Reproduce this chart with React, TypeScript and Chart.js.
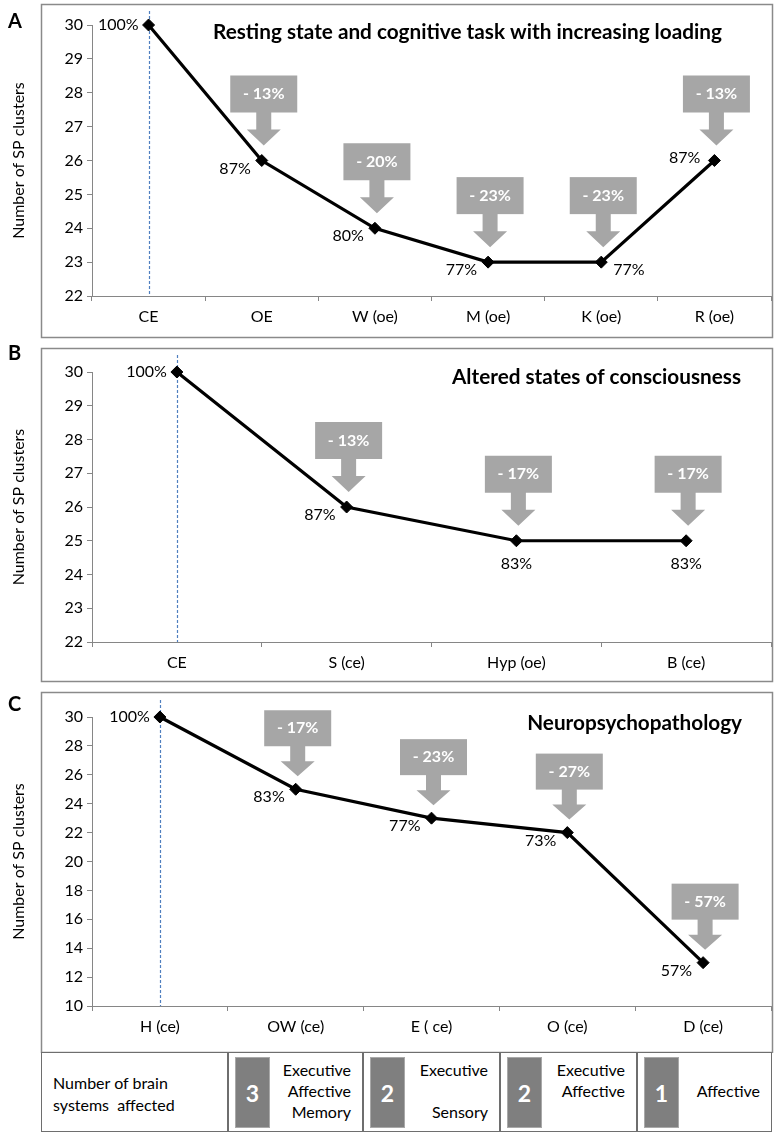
import React, { useEffect, useRef } from "react";
import { Chart, registerables } from "chart.js";
Chart.register(...registerables);

const FONT = "Lato, 'Open Sans', sans-serif";

// Panel A
const catsA = ["CE", "OE", "W (oe)", "M (oe)", "K (oe)", "R (oe)"];
const valsA = [30, 26, 24, 23, 23, 26];
const pctA = ["100%", "87%", "80%", "77%", "77%", "87%"];
const dropA = ["", "- 13%", "- 20%", "- 23%", "- 23%", "- 13%"];
const placeA = ["l", "bl", "bl", "bl", "br", "al"];

// Panel B
const catsB = ["CE", "S (ce)", "Hyp (oe)", "B (ce)"];
const valsB = [30, 26, 25, 25];
const pctB = ["100%", "87%", "83%", "83%"];
const dropB = ["", "- 13%", "- 17%", "- 17%"];
const placeB = ["l", "bl", "b", "b"];

// Panel C
const catsC = ["H (ce)", "OW (ce)", "E ( ce)", "O (ce)", "D (ce)"];
const valsC = [30, 25, 23, 22, 13];
const pctC = ["100%", "83%", "77%", "73%", "57%"];
const dropC = ["", "- 17%", "- 23%", "- 27%", "- 57%"];
const placeC = ["l", "bl", "bl", "bl", "bl"];

// Table
const tableLabel = ["Number of brain", "systems  affected"];
const systemCounts = ["3", "2", "2", "1"];
const systemNames = [
  ["Executive", "Affective", "Memory"],
  ["Executive", "", "Sensory"],
  ["Executive", "Affective", ""],
  ["", "Affective", ""],
];

const yTitle = "Number of SP clusters";

type Geo = { gap: number; head: number; stem: number; rectH: number };
type PanelCfg = {
  cats: string[]; vals: number[]; pct: string[]; drop: string[]; place: string[];
  min: number; max: number; step: number;
  top: number; height: number; plotTop: number; plotBottom: number;
  boxTop: number; boxBottom: number; letter: string; letterY: number;
  title: string; titleX: number; titleAlign: CanvasTextAlign; titleY: number; titleW: number;
  dashAbove: number; geo: Geo;
};

const panels: PanelCfg[] = [
  {
    cats: catsA, vals: valsA, pct: pctA, drop: dropA, place: placeA,
    min: 22, max: 30, step: 1,
    top: 0, height: 342, plotTop: 25, plotBottom: 296, boxTop: 4, boxBottom: 337,
    letter: "A", letterY: 22,
    title: "Resting state and cognitive task with increasing loading", titleX: 213, titleAlign: "left", titleY: 32, titleW: 509,
    dashAbove: 14, geo: { gap: 15, head: 16, stem: 17, rectH: 37 },
  },
  {
    cats: catsB, vals: valsB, pct: pctB, drop: dropB, place: placeB,
    min: 22, max: 30, step: 1,
    top: 342, height: 345, plotTop: 372, plotBottom: 642, boxTop: 348, boxBottom: 681,
    letter: "B", letterY: 354,
    title: "Altered states of consciousness", titleX: 741, titleAlign: "right", titleY: 377, titleW: 289,
    dashAbove: 17, geo: { gap: 15, head: 16, stem: 17, rectH: 37 },
  },
  {
    cats: catsC, vals: valsC, pct: pctC, drop: dropC, place: placeC,
    min: 10, max: 30, step: 2,
    top: 687, height: 366, plotTop: 717, plotBottom: 1006, boxTop: 692, boxBottom: 1052,
    letter: "C", letterY: 705,
    title: "Neuropsychopathology", titleX: 742, titleAlign: "right", titleY: 723, titleW: 215,
    dashAbove: 17, geo: { gap: 13, head: 15, stem: 15, rectH: 36 },
  },
];

function drawCallout(ctx: CanvasRenderingContext2D, px: number, py: number, text: string, g: Geo) {
  const cx = px + 2;
  const tip = py - g.gap;
  const headTop = tip - g.head;
  const rectBot = headTop - g.stem;
  const rectTop = rectBot - g.rectH;
  ctx.save();
  ctx.fillStyle = "#a6a6a6";
  ctx.fillRect(cx - 33.5, rectTop, 67, g.rectH);
  ctx.beginPath();
  ctx.moveTo(cx - 7.5, rectBot - 1);
  ctx.lineTo(cx + 7.5, rectBot - 1);
  ctx.lineTo(cx + 7.5, headTop);
  ctx.lineTo(cx + 17, headTop);
  ctx.lineTo(cx, tip);
  ctx.lineTo(cx - 17, headTop);
  ctx.lineTo(cx - 7.5, headTop);
  ctx.closePath();
  ctx.fill();
  ctx.fillStyle = "#ffffff";
  ctx.font = `bold 16px ${FONT}`;
  ctx.textAlign = "center";
  ctx.textBaseline = "middle";
  ctx.fillText(text, cx, rectTop + g.rectH / 2);
  ctx.restore();
}

function panelPlugin(cfg: PanelCfg) {
  const off = cfg.top;
  return {
    id: "panelDeco" + cfg.letter,
    beforeDatasetsDraw(chart: any) {
      const ctx: CanvasRenderingContext2D = chart.ctx;
      const xs = chart.scales.x;
      const x0 = Math.round(xs.getPixelForValue(0)) + 0.5;
      ctx.save();
      ctx.strokeStyle = "#4f7fbf";
      ctx.lineWidth = 1.2;
      ctx.setLineDash([3, 2]);
      ctx.beginPath();
      ctx.moveTo(x0, chart.chartArea.top - cfg.dashAbove);
      ctx.lineTo(x0, chart.chartArea.bottom);
      ctx.stroke();
      ctx.restore();
    },
    afterDatasetsDraw(chart: any) {
      const ctx: CanvasRenderingContext2D = chart.ctx;
      const meta = chart.getDatasetMeta(0);
      meta.data.forEach((pt: any, i: number) => {
        const px = pt.x, py = pt.y;
        if (cfg.drop[i]) drawCallout(ctx, px, py, cfg.drop[i], cfg.geo);
        ctx.save();
        ctx.fillStyle = "#000";
        ctx.font = `16px ${FONT}`;
        ctx.textBaseline = "middle";
        const p = cfg.place[i];
        if (p === "l") { ctx.textAlign = "right"; ctx.fillText(cfg.pct[i], px - 10, py); }
        else if (p === "bl") { ctx.textAlign = "right"; ctx.fillText(cfg.pct[i], px - 11, py + 8); }
        else if (p === "br") { ctx.textAlign = "left"; ctx.fillText(cfg.pct[i], px + 12, py + 8); }
        else if (p === "al") { ctx.textAlign = "right"; ctx.fillText(cfg.pct[i], px - 14, py - 3); }
        else if (p === "b") { ctx.textAlign = "center"; ctx.fillText(cfg.pct[i], px, py + 23); }
        ctx.restore();
      });
    },
    afterDraw(chart: any) {
      const ctx: CanvasRenderingContext2D = chart.ctx;
      ctx.save();
      // box
      ctx.strokeStyle = "#8a8a8a";
      ctx.lineWidth = 1.5;
      ctx.strokeRect(41.5, cfg.boxTop - off + 0.5, 731, cfg.boxBottom - cfg.boxTop);
      // letter
      ctx.fillStyle = "#000";
      ctx.font = `bold 20px ${FONT}`;
      ctx.textAlign = "left";
      ctx.textBaseline = "middle";
      ctx.fillText(cfg.letter, 8, cfg.letterY - off);
      // title
      ctx.font = `bold 18px ${FONT}`;
      const w = ctx.measureText(cfg.title).width;
      const size = Math.min(21, Math.max(15, (18 * cfg.titleW) / w));
      ctx.font = `bold ${size.toFixed(2)}px ${FONT}`;
      ctx.textAlign = cfg.titleAlign;
      ctx.fillText(cfg.title, cfg.titleX, cfg.titleY - off);
      // y title
      const ca = chart.chartArea;
      ctx.translate(19, (ca.top + ca.bottom) / 2);
      ctx.rotate(-Math.PI / 2);
      ctx.font = `16px ${FONT}`;
      ctx.textAlign = "center";
      ctx.fillText(yTitle, 0, 0);
      ctx.restore();
    },
  };
}

function Panel({ cfg }: { cfg: PanelCfg }) {
  const ref = useRef<HTMLCanvasElement>(null);
  useEffect(() => {
    if (!ref.current) return;
    const axisColor = "#868686";
    const chart = new Chart(ref.current, {
      type: "line",
      data: {
        labels: cfg.cats,
        datasets: [
          {
            data: cfg.vals,
            borderColor: "#000",
            borderWidth: 3.2,
            pointStyle: "rectRot",
            pointRadius: 6,
            pointBackgroundColor: "#000",
            pointBorderColor: "#000",
            pointBorderWidth: 1,
            tension: 0,
            clip: false as any,
          },
        ],
      },
      options: {
        responsive: false,
        animation: false,
        devicePixelRatio: 1,
        events: [],
        layout: { padding: { top: cfg.plotTop - cfg.top, right: 6, left: 0, bottom: 0 } },
        plugins: { legend: { display: false }, tooltip: { enabled: false } },
        scales: {
          x: {
            type: "category",
            offset: true,
            grid: { display: true, drawOnChartArea: false, drawTicks: true, tickLength: 5, color: axisColor, offset: true },
            border: { color: axisColor, width: 1 },
            ticks: { font: { family: FONT, size: 16 }, color: "#000", padding: 6, maxRotation: 0, autoSkip: false },
            afterFit: (s: any) => { s.height = cfg.top + cfg.height - cfg.plotBottom; },
          },
          y: {
            min: cfg.min,
            max: cfg.max,
            ticks: { stepSize: cfg.step, font: { family: FONT, size: 16 }, color: "#000", padding: 4 },
            grid: { display: true, drawOnChartArea: false, drawTicks: true, tickLength: 5, color: axisColor },
            border: { color: axisColor, width: 1 },
            afterFit: (s: any) => { s.width = 92; },
          },
        },
      } as any,
      plugins: [panelPlugin(cfg)],
    });
    return () => chart.destroy();
  }, [cfg]);
  return (
    <canvas
      ref={ref}
      width={778}
      height={cfg.height}
      style={{ position: "absolute", left: 0, top: cfg.top, width: 778, height: cfg.height, display: "block" }}
    />
  );
}

function Table() {
  const cols = [41, 228, 363, 500, 637, 772];
  const top = 1052, bottom = 1132;
  const rowsY = [1070, 1091, 1112];
  const txt: React.CSSProperties = { position: "absolute", fontFamily: FONT, fontSize: 16, color: "#000", whiteSpace: "pre", lineHeight: "18px" };
  return (
    <div>
      <div style={{ position: "absolute", left: 41, top, width: 731, height: bottom - top, border: "1.5px solid #6e6e6e", boxSizing: "border-box", background: "#fff" }} />
      {cols.slice(1, 5).map((x, i) => (
        <div key={"v" + i} style={{ position: "absolute", left: x - 0.75, top, width: 1.5, height: bottom - top, background: "#6e6e6e" }} />
      ))}
      {tableLabel.map((t, i) => (
        <div key={"l" + i} style={{ ...txt, left: 53, top: 1083 + i * 22 - 9 }}>{t}</div>
      ))}
      {systemCounts.map((n, i) => {
        const left = cols[i + 1];
        const right = cols[i + 2];
        return (
          <React.Fragment key={"c" + i}>
            <div style={{ position: "absolute", left: left + 7, top: 1057, width: 35, height: 71, background: "#7f7f7f", border: "1px solid #a9a9a9", boxSizing: "border-box", display: "flex", alignItems: "center", justifyContent: "center", color: "#fff", fontFamily: FONT, fontWeight: 700, fontSize: 23 }}>{n}</div>
            {systemNames[i].map((s, r) => s ? (
              <div key={r} style={{ ...txt, left: left + 45, width: right - left - 57, textAlign: "right", top: rowsY[r] - 9 }}>{s}</div>
            ) : null)}
          </React.Fragment>
        );
      })}
    </div>
  );
}

export default function App() {
  return (
    <div style={{ position: "absolute", left: 0, top: 0, width: 778, height: 1138, background: "#fff", overflow: "hidden" }}>
      {panels.map((p) => (
        <Panel key={p.letter} cfg={p} />
      ))}
      <Table />
    </div>
  );
}
